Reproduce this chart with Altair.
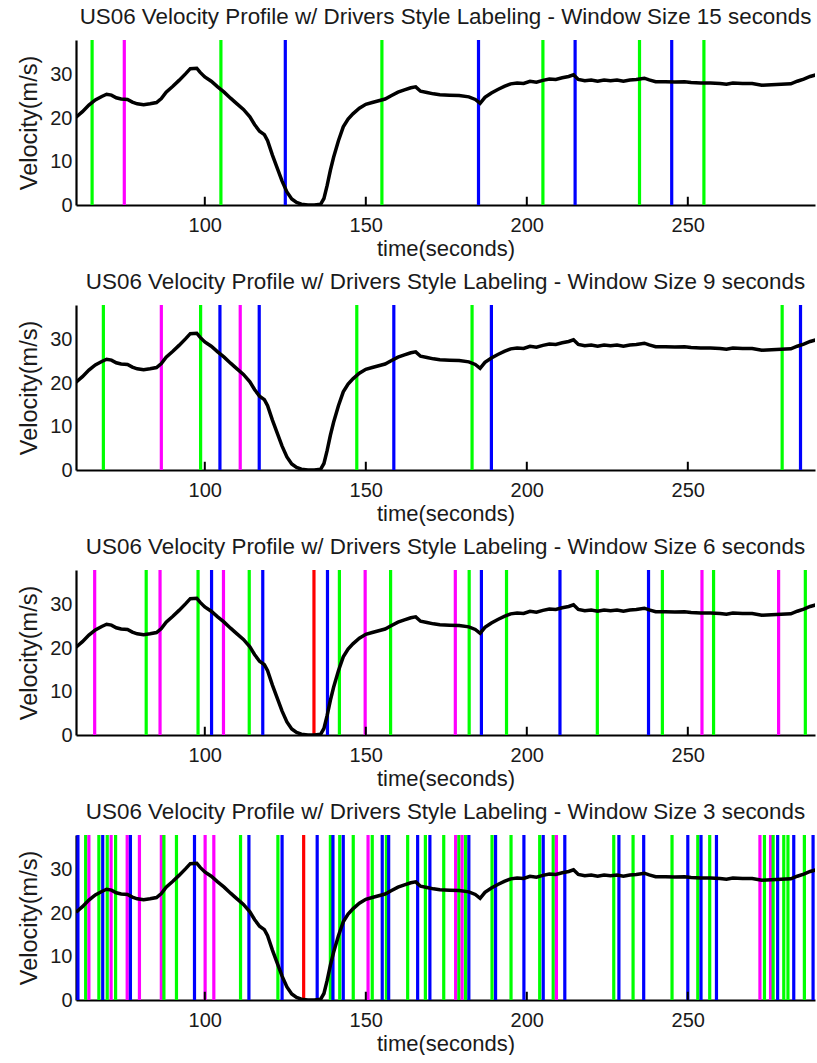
import altair as alt
import pandas as pd

# ---- velocity profile ----
TIME = [60, 62, 64, 66, 68, 69.5, 71, 72.5, 74, 76, 77.5, 79, 81, 83, 85, 86.5, 88, 90, 92, 94,
        95.5, 97.5, 98.5, 100, 102, 104, 106, 108, 110, 112, 114, 115.5, 117, 118.5, 119.5, 121,
        122.5, 124, 125.5, 127, 128.5, 130, 132, 134, 136, 137, 138, 139, 140, 141.5, 143, 144.5,
        146, 148, 150, 152, 154, 156, 158, 160, 162, 164, 165.5, 167, 169, 171, 173, 176, 179, 182,
        184, 185.5, 187, 189, 191, 193, 195, 197, 199, 201, 203, 205, 207, 209, 211, 213, 214.5,
        216, 218, 220, 222, 224, 226, 228, 230, 232, 234, 236.5, 238, 240, 243, 246, 249, 251, 254,
        257, 260, 262, 264, 267, 270, 273, 276, 279, 282, 284, 286, 288, 290]
VEL = [20.2, 21.5, 23.0, 24.2, 25.0, 25.5, 25.3, 24.7, 24.4, 24.3, 23.7, 23.3, 23.1, 23.3, 23.6,
       24.5, 26.0, 27.3, 28.7, 30.2, 31.4, 31.5, 30.6, 29.5, 28.5, 27.2, 26.0, 24.6, 23.3, 22.0,
       20.3, 18.5, 17.0, 16.2, 14.8, 11.5, 8.5, 5.5, 3.0, 1.4, 0.6, 0.2, 0, 0, 0.2, 1.5, 4.5, 8.0,
       11.0, 14.8, 18.0, 19.8, 21.0, 22.3, 23.2, 23.6, 24.0, 24.4, 25.2, 26.0, 26.5, 27.0, 27.2,
       26.2, 25.9, 25.6, 25.4, 25.3, 25.2, 24.9, 24.3, 23.4, 24.8, 25.8, 26.6, 27.3, 27.9, 28.1,
       28.0, 28.5, 28.3, 28.7, 29.0, 28.9, 29.3, 29.6, 30.0, 28.9, 28.6, 28.8, 28.5, 28.8, 28.6,
       28.8, 28.5, 28.8, 28.9, 29.2, 28.8, 28.4, 28.4, 28.3, 28.4, 28.2, 28.1, 28.1, 28.0, 27.8,
       28.1, 28.0, 28.0, 27.6, 27.7, 27.8, 27.9, 28.5, 29.0, 29.6, 30.0]

# ---- style labels per window size: times and colour codes ----
W15_T = [65, 75, 105, 125, 155, 185, 205, 215, 235, 245, 255]
W15_C = ["g", "m", "g", "b", "g", "b", "g", "b", "g", "b", "g"]

W9_T = [68.5, 86.5, 98.7, 104.7, 111.0, 116.9, 147.2, 158.7, 183.0, 189.0, 279.3, 285.0]
W9_C = ["g", "m", "g", "b", "m", "b", "g", "b", "g", "b", "g", "b"]

W6_T = [65.8, 81.8, 86.1, 97.9, 102.1, 105.8, 113.8, 118.0, 133.9, 138.1, 141.8, 149.8, 157.7,
        177.8, 182.1, 185.9, 193.7, 210.3, 221.9, 237.8, 242.1, 254.4, 258.0, 278.2, 286.5]
W6_C = ["m", "g", "m", "g", "b", "m", "g", "b", "r", "b", "g", "m", "g",
        "m", "g", "b", "g", "b", "g", "b", "g", "m", "g", "m", "g"]

W3_T = [60.6, 63.0, 64.0, 67.1, 68.3, 69.7, 70.9, 72.3, 75.9, 76.9, 79.7, 86.5, 87.3, 91.2, 96.8,
        100.1, 102.8, 111.1, 113.7, 122.7, 124.0, 130.7, 134.9, 139.0, 139.8, 141.9, 143.0,
        146.1, 150.7, 152.0, 155.1, 156.4, 157.1, 163.0, 166.1, 168.5, 169.9, 174.2, 177.9,
        178.9, 179.9, 181.0, 182.0, 189.2, 190.3, 195.1, 199.1, 204.0, 205.1, 208.2, 209.2,
        211.8, 227.0, 228.6, 233.0, 236.3, 245.1, 250.0, 253.1, 254.1, 256.8, 258.9, 272.4,
        273.8, 275.7, 276.5, 277.9, 279.8, 281.1, 282.9, 286.2, 288.9]
W3_C = ["b", "g", "m", "g", "b", "g", "m", "g", "m", "b", "m", "m", "g", "g", "b",
        "m", "m", "g", "b", "g", "b", "r", "b", "g", "b", "g", "b",
        "g", "m", "g", "b", "g", "b", "g", "b", "g", "b", "g", "m",
        "g", "m", "g", "b", "g", "b", "g", "b", "g", "b", "g", "m",
        "b", "g", "b", "g", "b", "g", "b", "g", "b", "g", "b", "m",
        "g", "m", "g", "b", "g", "g", "b", "g", "b"]

WINDOWS = [15, 9, 6, 3]
LABEL_T = [W15_T, W9_T, W6_T, W3_T]
LABEL_C = [W15_C, W9_C, W6_C, W3_C]

X_TICKS = [100, 150, 200, 250]
Y_TICKS = [0, 10, 20, 30]
X_DOMAIN = [60, 289.5]
Y_DOMAIN = [0, 38]

FONT = "Liberation Sans"
W, H = 739, 165

color_scale = alt.Scale(domain=["g", "m", "b", "r"],
                        range=["#00ff00", "#ff00ff", "#0000ff", "#ff0000"])

xscale = alt.Scale(domain=X_DOMAIN, nice=False, zero=False)
yscale = alt.Scale(domain=Y_DOMAIN, nice=False, zero=False)
xaxis = alt.Axis(values=X_TICKS, title="time(seconds)", labelPadding=10, titlePadding=3,
                 titleFontSize=22)
yaxis = alt.Axis(values=Y_TICKS, title="Velocity(m/s)", labelPadding=4, titlePadding=8,
                 titleFontSize=23.5)

curve_df = pd.DataFrame({"t": TIME, "v": VEL})
tick_df = pd.DataFrame({"t": X_TICKS})


def panel(win, times, codes):
    lab_df = pd.DataFrame({"t": times, "c": codes})
    rules = alt.Chart(lab_df).mark_rule(strokeWidth=3.2, clip=True).encode(
        x=alt.X("t:Q", scale=xscale, axis=xaxis),
        y=alt.YDatum(Y_DOMAIN[0], scale=yscale, axis=yaxis),
        y2=alt.datum(Y_DOMAIN[1]),
        color=alt.Color("c:N", scale=color_scale, legend=None),
    )
    line = alt.Chart(curve_df).mark_line(color="black", strokeWidth=3.5, clip=True).encode(
        x=alt.X("t:Q", scale=xscale, axis=xaxis),
        y=alt.Y("v:Q", scale=yscale, axis=yaxis),
    )
    ticks = alt.Chart(tick_df).mark_rule(color="black", strokeWidth=2).encode(
        x=alt.X("t:Q", scale=xscale, axis=xaxis),
        y=alt.YDatum(0, scale=yscale, axis=yaxis),
        y2=alt.datum(1.9),
    )
    return alt.layer(rules, line, ticks).properties(
        width=W, height=H,
        title=alt.TitleParams(
            f"US06 Velocity Profile w/ Drivers Style Labeling - Window Size {win} seconds",
            fontSize=22.4, font=FONT, fontWeight="normal", color="#1a1a1a",
            anchor="middle", frame="group", offset=12),
    )


chart = alt.vconcat(*[panel(w, t, c) for w, t, c in zip(WINDOWS, LABEL_T, LABEL_C)],
                    spacing=10).properties(
    padding={"left": 17, "top": 5, "right": 0, "bottom": 0},
    background="white",
).configure_view(stroke="transparent").configure_axis(
    grid=False, domainColor="black", domainWidth=2.2, ticks=False,
    labelFont=FONT, labelFontSize=20, labelColor="#1a1a1a",
    titleFont=FONT, titleFontWeight="normal", titleColor="#1a1a1a",
)

chart.save("out.html", embed_options={"renderer": "svg", "actions": False})
